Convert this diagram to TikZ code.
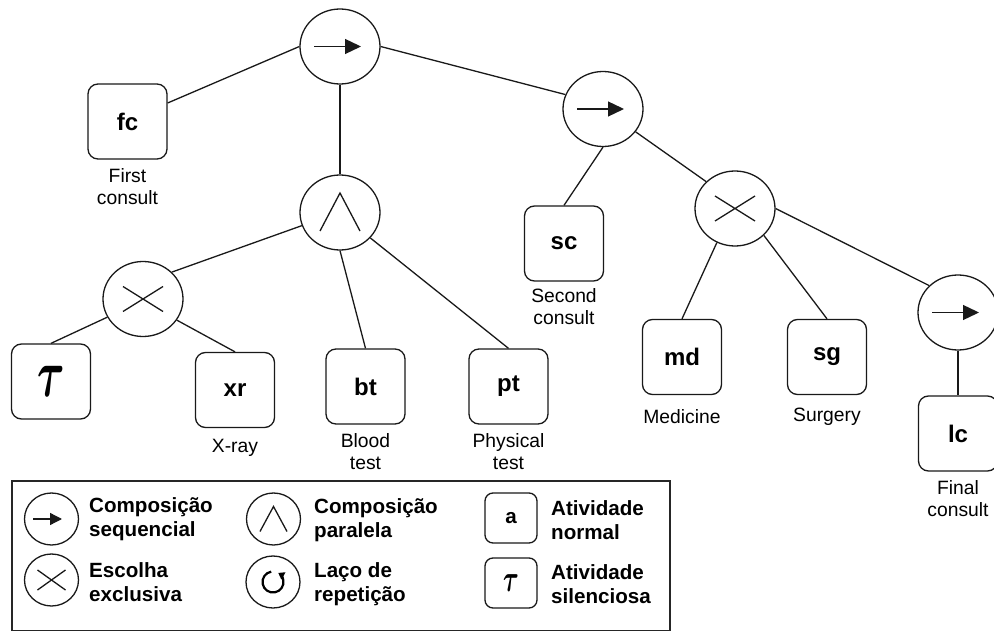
\documentclass[tikz,border=0pt]{standalone}
\usepackage{fontspec}
\usepackage{graphicx}
\setmainfont{Liberation Sans}
\usetikzlibrary{shapes.geometric,arrows.meta}

\newcommand\lblfont{\fontsize{19.3}{22}\selectfont}
\newcommand\actfont{\fontsize{24}{28}\selectfont\bfseries}
\newcommand\legfont{\fontsize{20.6}{23.5}\selectfont\bfseries}
% silent activity glyph: a 10pt bold tau stretched by #1 (x) and #2 (y)
\newcommand\TauGlyph[2]{{\fontsize{10}{12}\selectfont\boldmath\scalebox{#1}[#2]{$\tau$}}}

\tikzset{
  ink/.style={line width=1.3pt, draw=black!90},
  op/.style={ink, ellipse, minimum width=80pt, minimum height=75pt, inner sep=0pt},
  smallop/.style={ink, ellipse, minimum width=54pt, minimum height=52pt, inner sep=0pt},
  act/.style={ink, rounded corners=10pt, minimum width=79pt, minimum height=75pt, inner sep=0pt, font=\actfont},
  smallact/.style={ink, rounded corners=8pt, minimum width=52pt, minimum height=50pt, inner sep=0pt, font=\legfont},
  lbl/.style={align=center, font=\lblfont, inner sep=0pt},
  legtxt/.style={align=left, anchor=west, font=\legfont, inner sep=0pt},
  edge/.style={ink},
  seqtip/.style={-{Triangle[length=16pt,width=15pt]}},
  smallseqtip/.style={-{Triangle[length=12pt,width=12pt]}}
}

% operator glyphs drawn inside an operator node
\newcommand\SeqMark[1]{\draw[ink, seqtip, shift={(#1.center)}] (-26,0) -- (21,0);}
\newcommand\ParMark[1]{\draw[ink, shift={(#1.center)}] (-20,18.5) -- (0,-19.5) -- (20,18.5);}
\newcommand\XorMark[1]{\draw[ink, shift={(#1.center)}] (-20,-12.5) -- (20,12.5) (-20,12.5) -- (20,-12.5);}

\begin{document}
\begin{tikzpicture}[x=1pt, y=-1pt]
\useasboundingbox (0,0) rectangle (994,631);

% ---- process tree ----
\node[op]  (root) at (340,46.5) {};
\node[act] (fc)   at (127.5,121.5) {fc};
\node[op]  (par)  at (340,212.5) {};
\node[op]  (seq2) at (603,109) {};
\node[act] (sc)   at (564,243.5) {sc};
\node[op]  (xor2) at (735,208.5) {};
\node[act] (md)   at (682,357) {md};
\node[act] (sg)   at (827,357) {sg};
\node[op]  (seq3) at (958,312.5) {};
\node[act] (lc)   at (958,433.5) {lc};
\node[op]  (xor1) at (143,299) {};
\node[act] (tau)  at (51,381.5) {\TauGlyph{4.2}{6.8}};
\node[act] (xr)   at (235,390) {xr};
\node[act] (bt)   at (365.5,386.5) {bt};
\node[act] (pt)   at (508.5,386.5) {pt};

\SeqMark{root}
\SeqMark{seq2}
\SeqMark{seq3}
\ParMark{par}
\XorMark{xor1}
\XorMark{xor2}

% activity names
\node[lbl] (fcl) at (127.5,187) {First\\consult};
\node[lbl] (scl) at (564,307) {Second\\consult};
\node[lbl] (xrl) at (235,448) {X-ray};
\node[lbl] (btl) at (365.5,452) {Blood\\test};
\node[lbl] (ptl) at (508.5,452) {Physical\\test};
\node[lbl] (mdl) at (682,417) {Medicine};
\node[lbl] (sgl) at (827,417) {Surgery};
\node[lbl] (lcl) at (958,499) {Final\\consult};

% tree edges
\draw[edge] (root.180) -- ([yshift=18.5pt]fc.east);
\draw[edge] (root.south) -- (par.north);
\draw[edge] (root.east) -- (seq2.159);
\draw[edge] (par.199) -- (xor1.43);
\draw[edge] (par.south) -- (bt.north);
\draw[edge] (par.320) -- (pt.north);
\draw[edge] (xor1.207) -- (tau.north);
\draw[edge] (xor1.328) -- (xr.north);
\draw[edge] (seq2.south) -- (sc.north);
\draw[edge] (seq2.325) -- (xor2.137);
\draw[edge] (xor2.242) -- (md.north);
\draw[edge] (xor2.317) -- (sg.north);
\draw[edge] (xor2.east) -- (seq3.137);
\draw[edge] (seq3.south) -- (lc.north);

% ---- legend ----
\node[draw=black!85, line width=1.5pt, minimum width=658pt, minimum height=150pt,
      anchor=north west, inner sep=0pt] (legend) at (11,480) {};

\node[smallop] (lseq) at (51.5,519) {};
\draw[ink, smallseqtip, shift={(lseq.center)}] (-18.5,0) -- (10.5,0);
\node[legtxt] (lseqt) at (89,519) {Composição\\sequencial};

\node[smallop] (lxor) at (51.5,580) {};
\draw[ink, shift={(lxor.center)}] (-14,-10) -- (14,10) (-14,10) -- (14,-10);
\node[legtxt] (lxort) at (89,582) {Escolha\\exclusiva};

\node[smallop] (lpar) at (273.5,519) {};
\draw[ink, shift={(lpar.center)}] (-13.5,12.5) -- (0,-12.5) -- (13.5,12.5);
\node[legtxt] (lpart) at (314,520) {Composição\\paralela};

\node[smallop] (lloop) at (273,582) {};
% y runs downwards here, so negative angles turn counterclockwise on the page
\draw[line width=2.2pt, -{Triangle[length=6pt,width=8pt]}, shift={(lloop.center)}]
  (-100:10.5) arc[start angle=-100, end angle=-420, radius=10.5];
\node[legtxt] (lloopt) at (314,584) {Laço de\\repetição};

\node[smallact] (la) at (511,518) {a};
\node[legtxt] (lat) at (551,520) {Atividade\\normal};

\node[smallact] (ltau) at (511,583) {\TauGlyph{2.4}{3.8}};
\node[legtxt] (ltaut) at (551,584) {Atividade\\silenciosa};

\end{tikzpicture}
\end{document}
